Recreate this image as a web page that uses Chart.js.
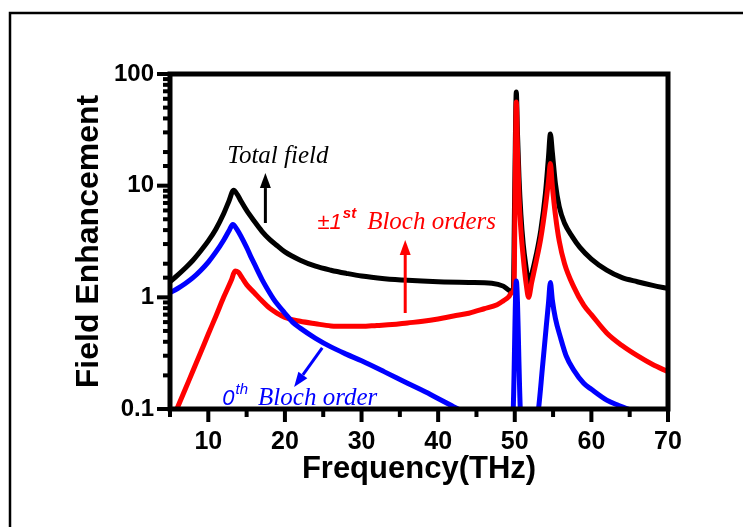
<!DOCTYPE html>
<html>
<head>
<meta charset="utf-8">
<script src="https://cdn.jsdelivr.net/npm/chart.js"></script>
<style>
  html, body { margin: 0; padding: 0; background: #fff; }
  #wrap { position: relative; width: 743px; height: 527px; }
</style>
</head>
<body>
<div id="wrap"><canvas id="chart"></canvas></div>
<script>
// Total field
const totalFreq = [5, 6, 7, 8, 9, 10, 11, 12, 12.7, 13.3, 13.8, 14.3, 15, 16, 17, 18, 19, 20, 22, 24, 26, 28, 30, 33, 36, 40, 44, 47, 48.5, 49.3, 49.8,
  50.0, 50.2, 50.35, 50.55, 50.8, 51.1, 51.5, 51.8, 52.2, 52.8, 53.4, 54.0, 54.4, 54.65, 54.9, 55.3, 55.8, 56.5, 57.5, 58.5, 60, 62, 64, 66, 68, 70];
const totalField = [1.38, 1.58, 1.83, 2.15, 2.6, 3.2, 4.1, 5.6, 7.3, 9.1, 8.3, 7.2, 6.0, 4.8, 3.9, 3.3, 2.9, 2.55, 2.15, 1.9, 1.75, 1.64, 1.55, 1.47, 1.42, 1.38, 1.36, 1.34, 1.26, 1.15, 1.12,
  10, 69, 30, 12, 5.5, 3.0, 1.8, 1.3, 1.6, 2.4, 4.0, 8.5, 18, 29, 20, 10.5, 6.5, 4.6, 3.5, 2.8, 2.2, 1.75, 1.5, 1.38, 1.28, 1.2];

// +-1st Bloch orders
const firstFreq = [5.5, 5.9, 7, 8, 9, 10, 11, 12, 13, 13.5, 13.9, 14.4, 15, 16, 17, 18, 19, 20, 22, 24, 26, 28, 30, 32, 34, 36, 38, 40, 42, 44, 46, 47.7, 48.5, 49.2, 49.6, 49.9,
  50.05, 50.2, 50.35, 50.55, 50.8, 51.1, 51.5, 51.8, 52.2, 52.8, 53.4, 54.0, 54.4, 54.65, 54.9, 55.3, 55.8, 56.5, 57.7, 59, 60, 62, 64, 66, 68, 70];
const firstOrder = [0.085, 0.1, 0.151, 0.22, 0.32, 0.47, 0.68, 1.0, 1.42, 1.72, 1.68, 1.5, 1.3, 1.1, 0.93, 0.8, 0.72, 0.66, 0.61, 0.58, 0.555, 0.55, 0.55, 0.56, 0.57, 0.59, 0.61, 0.64, 0.68, 0.72, 0.79, 0.86, 0.93, 1.01, 1.1, 1.2,
  10, 56, 22, 8, 4, 2.3, 1.3, 1.0, 1.35, 2.1, 3.4, 6.5, 11, 15.8, 10, 5.5, 3.2, 2.0, 1.24, 0.85, 0.7, 0.48, 0.37, 0.3, 0.25, 0.216];

// 0th Bloch order (null = below the axis)
const zeroFreq = [5, 6, 7, 8, 9, 10, 11, 12, 12.7, 13.2, 13.7, 15, 15.5, 16, 17, 18, 18.5, 19, 20, 21, 22, 24, 26, 28, 30, 33, 36, 39, 42, 43, 46,
  49.7, 49.8, 50.2, 50.72, 50.8, 52,
  53.0, 53.1, 53.6, 54.1, 54.4, 54.65, 54.9, 55.3, 55.95, 56.7, 57.7, 59, 60, 62, 63.5, 64.8, 65.5];
const zeroOrder = [1.1, 1.2, 1.33, 1.5, 1.74, 2.07, 2.55, 3.25, 3.95, 4.5, 4.1, 2.8, 2.35, 2.0, 1.45, 1.1, 0.97, 0.87, 0.72, 0.6, 0.53, 0.43, 0.36, 0.31, 0.27, 0.215, 0.17, 0.135, 0.105, 0.097, null,
  0.085, 0.1, 1.4, 0.1, 0.085, null,
  0.09, 0.1, 0.23, 0.54, 0.89, 1.36, 0.95, 0.65, 0.44, 0.3, 0.223, 0.17, 0.15, 0.12, 0.108, 0.1, 0.095];

const yTickLabels = ['0.1', '1', '10', '100'];

// annotation anchors in data units
const notes = {
  total: {x: 12.48, y: 18.4},
  first: {x: 24.25, y: 4.72},
  zero: {x: 11.83, y: 0.1255}
};
const arrows = [
  {from: [17.45, 4.63], to: [17.45, 12.97], color: '#000000'},
  {from: [35.7, 0.724], to: [35.7, 3.26], color: '#ff0000'},
  {from: [24.87, 0.352], to: [21.2, 0.157], color: '#0000ff'}
];

const toPoints = (xs, ys) => xs.map((x, i) => ({x: x, y: ys[i]}));

function drawArrow(ctx, x0, y0, x1, y1, color) {
  const ang = Math.atan2(y1 - y0, x1 - x0);
  const head = 15, half = 5.5;
  const bx = x1 - head * Math.cos(ang), by = y1 - head * Math.sin(ang);
  ctx.save();
  ctx.strokeStyle = color;
  ctx.fillStyle = color;
  ctx.lineWidth = 3;
  ctx.beginPath();
  ctx.moveTo(x0, y0);
  ctx.lineTo(bx, by);
  ctx.stroke();
  ctx.beginPath();
  ctx.moveTo(x1, y1);
  ctx.lineTo(bx + half * Math.sin(ang), by - half * Math.cos(ang));
  ctx.lineTo(bx - half * Math.sin(ang), by + half * Math.cos(ang));
  ctx.closePath();
  ctx.fill();
  ctx.restore();
}

// text runs: [text, font, dy, gap after]
function drawRuns(ctx, x, y, runs, color) {
  ctx.save();
  ctx.fillStyle = color;
  ctx.textBaseline = 'middle';
  ctx.textAlign = 'left';
  runs.forEach(r => {
    ctx.font = r[1];
    ctx.fillText(r[0], x, y + r[2]);
    x += ctx.measureText(r[0]).width + (r[3] || 0);
  });
  ctx.restore();
}

const decorPlugin = {
  id: 'decor',
  afterDatasetsDraw(chart) {
    const ctx = chart.ctx;
    const xs = chart.scales.x, ys = chart.scales.y;
    const a = chart.chartArea;

    // tick marks, outside
    ctx.save();
    ctx.fillStyle = '#000';
    xs.ticks.forEach(t => {
      const px = xs.getPixelForValue(t.value);
      const len = t.value % 10 === 0 ? 13 : 8;
      ctx.fillRect(px - 2, a.bottom, 4, len);
    });
    ys.ticks.forEach(t => {
      const py = ys.getPixelForValue(t.value);
      const lg = Math.log10(t.value);
      const major = Math.abs(lg - Math.round(lg)) < 1e-6;
      const len = major ? 13 : 7;
      ctx.fillRect(a.left - len, py - 2, len, 4);
    });
    // plot frame
    ctx.lineWidth = 5;
    ctx.strokeStyle = '#000';
    ctx.strokeRect(a.left, a.top, a.right - a.left, a.bottom - a.top);
    // figure border (only left and top fall inside the picture)
    ctx.lineWidth = 2.5;
    ctx.beginPath();
    ctx.moveTo(10, 527);
    ctx.lineTo(10, 13);
    ctx.lineTo(743, 13);
    ctx.stroke();
    ctx.restore();

    // annotations
    const serif = '"Liberation Serif", "Times New Roman", serif';
    const sans = '"Liberation Sans", Arial, sans-serif';
    drawRuns(ctx, xs.getPixelForValue(notes.total.x), ys.getPixelForValue(notes.total.y),
      [['Total field', 'italic 25px ' + serif, 0]], '#000');
    drawRuns(ctx, xs.getPixelForValue(notes.first.x), ys.getPixelForValue(notes.first.y),
      [['\u00b11', 'italic 22px ' + sans, 1, 1], ['st', 'italic bold 15px ' + sans, -8, 11], ['Bloch orders', 'italic 25px ' + serif, 0]], '#ff0000');
    drawRuns(ctx, xs.getPixelForValue(notes.zero.x), ys.getPixelForValue(notes.zero.y),
      [['0', 'italic 22px ' + sans, 1, 1], ['th', 'italic 15px ' + sans, -8, 10], ['Bloch order', 'italic 25px ' + serif, 0]], '#0000ff');

    arrows.forEach(ar => {
      drawArrow(ctx,
        xs.getPixelForValue(ar.from[0]), ys.getPixelForValue(ar.from[1]),
        xs.getPixelForValue(ar.to[0]), ys.getPixelForValue(ar.to[1]), ar.color);
    });
  }
};

const lineStyle = {
  borderWidth: 5,
  pointRadius: 0,
  fill: false,
  cubicInterpolationMode: 'monotone',
  spanGaps: false
};

new Chart(document.getElementById('chart'), {
  type: 'line',
  data: {
    datasets: [
      Object.assign({label: '0th Bloch order', data: toPoints(zeroFreq, zeroOrder), borderColor: '#0000ff'}, lineStyle),
      Object.assign({label: '\u00b11st Bloch orders', data: toPoints(firstFreq, firstOrder), borderColor: '#ff0000'}, lineStyle),
      Object.assign({label: 'Total field', data: toPoints(totalFreq, totalField), borderColor: '#000000'}, lineStyle)
    ]
  },
  options: {
    responsive: true,
    maintainAspectRatio: false,
    devicePixelRatio: 1,
    animation: false,
    layout: {padding: {left: 70, right: 75, top: 74, bottom: 28}},
    plugins: {legend: {display: false}, tooltip: {enabled: false}},
    scales: {
      x: {
        type: 'linear',
        min: 5,
        max: 70,
        afterFit: s => { s.height = 90; },
        grid: {display: false, drawTicks: false},
        border: {display: false},
        ticks: {
          stepSize: 5,
          autoSkip: false,
          maxRotation: 0,
          padding: 18,
          color: '#000',
          font: {family: '"Liberation Sans", Arial, sans-serif', weight: 'bold', size: 25},
          callback: v => (v % 10 === 0 ? String(v) : '')
        },
        title: {
          display: true,
          text: 'Frequency(THz)',
          color: '#000',
          font: {family: '"Liberation Sans", Arial, sans-serif', weight: 'bold', size: 31},
          padding: {top: 0, bottom: 11}
        }
      },
      y: {
        type: 'logarithmic',
        min: 0.1,
        max: 100,
        afterFit: s => { s.width = 100; },
        grid: {display: false, drawTicks: false},
        border: {display: false},
        ticks: {
          autoSkip: false,
          padding: 16,
          color: '#000',
          font: {family: '"Liberation Sans", Arial, sans-serif', weight: 'bold', size: 24},
          callback: v => {
            const lg = Math.log10(v);
            if (Math.abs(lg - Math.round(lg)) > 1e-6) return '';
            return yTickLabels[Math.round(lg) + 1];
          }
        },
        title: {
          display: true,
          text: 'Field Enhancement',
          color: '#000',
          font: {family: '"Liberation Sans", Arial, sans-serif', weight: 'bold', size: 32},
          padding: {top: 0, bottom: 0}
        }
      }
    }
  },
  plugins: [decorPlugin]
});
</script>
</body>
</html>
